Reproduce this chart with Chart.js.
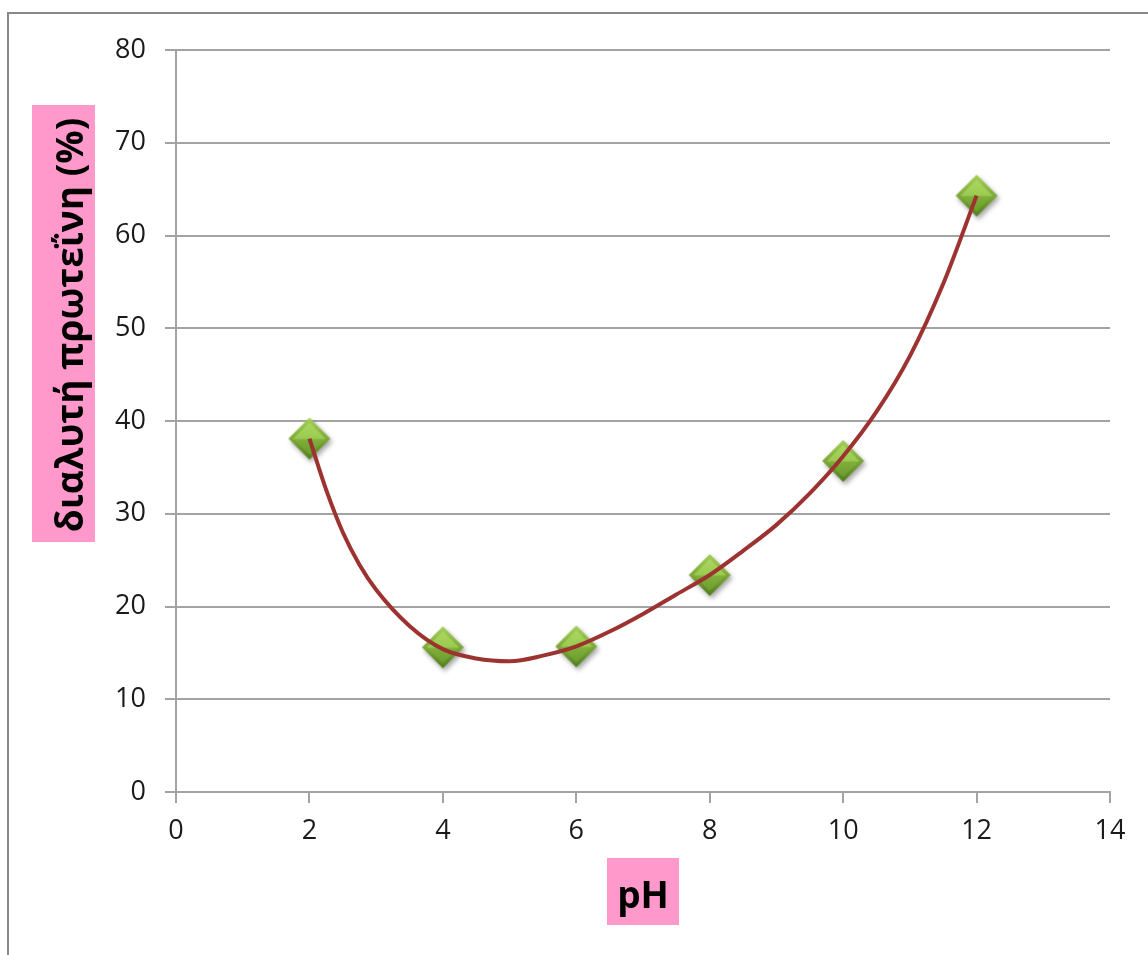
<!DOCTYPE html>
<html>
<head>
<meta charset="utf-8">
<script src="https://cdn.jsdelivr.net/npm/chart.js@4/dist/chart.umd.min.js"></script>
<style>
  html, body { margin: 0; padding: 0; background: #fff; overflow: hidden; }
  #wrap { position: absolute; left: 0; top: 0; width: 1148px; height: 955px; }
  #frame { position: absolute; left: 7px; top: 12px; width: 1300px; height: 1100px;
           border-left: 2px solid #878787; border-top: 2px solid #878787; pointer-events: none; }
</style>
</head>
<body>
<div id="wrap">
  <canvas id="chart"></canvas>
  <div id="frame"></div>
</div>
<script>
// measured points
const phValues = [2, 4, 6, 8, 10, 12];
const proteinValues = [38.1, 15.6, 15.7, 23.4, 35.7, 64.3];

// trend line
const trendPh = [2, 2.25, 2.5, 2.75, 3, 3.5, 4, 4.5, 5, 5.5, 6, 6.5, 7, 7.5, 8, 8.5, 9, 9.5, 10, 10.5, 11, 11.5, 12];
const trendValues = [38.1, 32.6, 28.0, 24.5, 21.8, 17.9, 15.4, 14.4, 14.1, 14.7, 15.7, 17.3, 19.2, 21.3, 23.4, 26.0, 28.8, 32.2, 36.2, 41.0, 47.0, 54.8, 64.3];

const xTicks = [0, 2, 4, 6, 8, 10, 12, 14];
const yTicks = [0, 10, 20, 30, 40, 50, 60, 70, 80];

const xTitle = 'pH';
const yTitle = 'διαλυτή πρωτεΐνη (%)';

const PINK = '#ff99cc';
const GRID = '#a3a3a3';
const FONT = "'Open Sans', 'DejaVu Sans', sans-serif";

// green bevelled diamond used as the marker
function makeDiamond() {
  const c = document.createElement('canvas');
  c.width = 62; c.height = 62;
  const g = c.getContext('2d');
  const cx = 31, cy = 31, r = 21;
  const path = (rr) => {
    g.beginPath();
    g.moveTo(cx, cy - rr);
    g.lineTo(cx + rr, cy);
    g.lineTo(cx, cy + rr);
    g.lineTo(cx - rr, cy);
    g.closePath();
  };
  g.save();
  g.shadowColor = 'rgba(0,0,0,0.35)';
  g.shadowBlur = 5;
  g.shadowOffsetX = 2;
  g.shadowOffsetY = 3;
  path(r);
  const outer = g.createLinearGradient(0, cy - r, 0, cy + r);
  outer.addColorStop(0, '#a6d25a');
  outer.addColorStop(0.5, '#7ea93a');
  outer.addColorStop(1, '#527e1e');
  g.fillStyle = outer;
  g.fill();
  g.restore();
  path(r - 5);
  const inner = g.createLinearGradient(0, cy - r, 0, cy + r);
  inner.addColorStop(0, '#b0dc64');
  inner.addColorStop(0.5, '#9acb50');
  inner.addColorStop(0.52, '#80b03a');
  inner.addColorStop(1, '#66952b');
  g.fillStyle = inner;
  g.fill();
  return c;
}

const titlePlugin = {
  id: 'titlePlugin',
  afterDraw(chart) {
    const ctx = chart.ctx;
    const area = chart.chartArea;
    ctx.save();
    ctx.font = 'bold 37px ' + FONT;
    ctx.textAlign = 'center';
    ctx.textBaseline = 'alphabetic';

    // x title
    const xc = (area.left + area.right) / 2;
    ctx.fillStyle = PINK;
    ctx.fillRect(xc - 36, 858, 72, 67);
    ctx.fillStyle = '#000';
    ctx.fillText(xTitle, xc, 908);

    // y title
    ctx.fillStyle = PINK;
    ctx.fillRect(32, 105, 63, 437);
    ctx.translate(83, 325);
    ctx.rotate(-Math.PI / 2);
    ctx.fillStyle = '#000';
    ctx.fillText(yTitle, 0, 0);
    ctx.restore();
  }
};

const ctx = document.getElementById('chart').getContext('2d');
new Chart(ctx, {
  type: 'scatter',
  data: {
    datasets: [
      {
        type: 'line',
        label: 'trend',
        data: trendPh.map((x, i) => ({ x, y: trendValues[i] })),
        borderColor: '#9c3331',
        borderWidth: 4,
        pointRadius: 0,
        cubicInterpolationMode: 'monotone',
        fill: false,
        order: 0
      },
      {
        label: 'διαλυτή πρωτεΐνη',
        data: phValues.map((x, i) => ({ x, y: proteinValues[i] })),
        pointStyle: makeDiamond(),
        pointRadius: 21,
        order: 1
      }
    ]
  },
  options: {
    responsive: true,
    maintainAspectRatio: false,
    animation: false,
    layout: { padding: { left: 0, top: 50, right: 38, bottom: 0 } },
    plugins: {
      legend: { display: false },
      tooltip: { enabled: false }
    },
    scales: {
      x: {
        type: 'linear',
        min: 0,
        max: 14,
        afterFit(scale) { scale.height = 163; },
        afterBuildTicks(scale) { scale.ticks = xTicks.map(v => ({ value: v })); },
        grid: { drawOnChartArea: false, drawTicks: true, tickLength: 11, color: GRID, lineWidth: 2 },
        border: { color: GRID, width: 2 },
        ticks: { color: '#1a1a1a', font: { family: FONT, size: 27 }, padding: 12, maxRotation: 0 }
      },
      y: {
        min: 0,
        max: 80,
        afterFit(scale) { scale.width = 176; },
        afterBuildTicks(scale) { scale.ticks = yTicks.map(v => ({ value: v })); },
        grid: { drawTicks: true, tickLength: 11, color: GRID, lineWidth: 2 },
        border: { color: GRID, width: 2 },
        ticks: { color: '#1a1a1a', font: { family: FONT, size: 27 }, padding: 19 }
      }
    }
  },
  plugins: [titlePlugin]
});
</script>
</body>
</html>
